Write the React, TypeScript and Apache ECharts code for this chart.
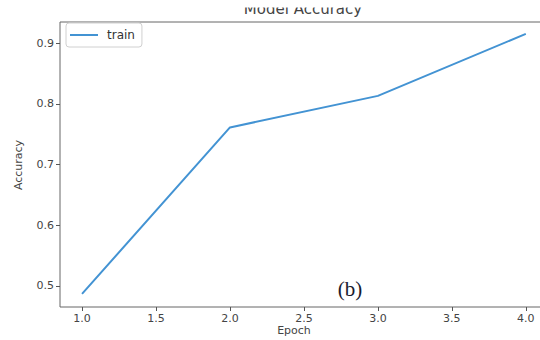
import React, { useEffect, useRef } from "react";
import * as echarts from "echarts";

const epochs = [1, 2, 3, 4];
const trainAcc = [0.487, 0.761, 0.813, 0.915];
const xTicks = [1.0, 1.5, 2.0, 2.5, 3.0, 3.5, 4.0];
const yTicks = [0.5, 0.6, 0.7, 0.8, 0.9];

export default function App() {
  const ref = useRef<HTMLDivElement>(null);
  useEffect(() => {
    if (!ref.current) return;
    const chart = echarts.init(ref.current, undefined, { renderer: "svg" });
    const font = "DejaVu Sans";
    chart.setOption({
      animation: false,
      backgroundColor: "#ffffff",
      grid: {
        left: 60,
        right: 12,
        top: 22,
        bottom: 33,
        show: true,
        borderColor: "#666",
        borderWidth: 1,
        backgroundColor: "transparent",
      },
      legend: {
        left: 66,
        top: 23,
        orient: "horizontal",
        icon: "rect",
        itemWidth: 28,
        itemHeight: 2,
        padding: [6, 7, 6, 4],
        borderColor: "#d0d0d0",
        borderWidth: 1,
        borderRadius: 3,
        backgroundColor: "rgba(255,255,255,0.8)",
        textStyle: {
          fontFamily: font,
          fontSize: 12,
          color: "#333",
          padding: [0, 0, 0, 4],
        },
        data: ["train"],
      },
      xAxis: {
        type: "value",
        min: 0.851,
        max: 4.15,
        axisLine: { show: false },
        splitLine: { show: false },
        axisTick: {
          show: true,
          length: 4,
          customValues: xTicks,
          lineStyle: { color: "#555" },
        },
        axisLabel: {
          customValues: xTicks,
          formatter: (v: number) => v.toFixed(1),
          fontFamily: font,
          fontSize: 11,
          color: "#444",
          margin: 6,
        },
      },
      yAxis: {
        type: "value",
        min: 0.4654,
        max: 0.9346,
        axisLine: { show: false },
        splitLine: { show: false },
        axisTick: {
          show: true,
          length: 4,
          customValues: yTicks,
          lineStyle: { color: "#555" },
        },
        axisLabel: {
          customValues: yTicks,
          formatter: (v: number) => v.toFixed(1),
          fontFamily: font,
          fontSize: 11,
          color: "#444",
          margin: 6,
        },
      },
      graphic: [
        {
          type: "text",
          x: 303,
          y: 16,
          z: 10,
          style: {
            text: "Model Accuracy",
            fontFamily: font,
            fontSize: 15,
            fill: "#444",
            align: "center",
            verticalAlign: "bottom",
          },
        },
        {
          type: "rect",
          z: 11,
          shape: { x: 200, y: 0, width: 200, height: 7.5 },
          style: { fill: "#ffffff" },
        },
        {
          type: "text",
          x: 18,
          y: 165,
          rotation: Math.PI / 2,
          style: {
            text: "Accuracy",
            fontFamily: font,
            fontSize: 11,
            fill: "#444",
            align: "center",
            verticalAlign: "middle",
          },
        },
        {
          type: "text",
          x: 294,
          y: 330,
          style: {
            text: "Epoch",
            fontFamily: font,
            fontSize: 11,
            fill: "#444",
            align: "center",
            verticalAlign: "middle",
          },
        },
        {
          type: "text",
          x: 350,
          y: 289,
          style: {
            text: "(b)",
            fontFamily: "Liberation Serif",
            fontSize: 21,
            fill: "#1a1a2e",
            align: "center",
            verticalAlign: "middle",
          },
        },
      ],
      series: [
        {
          name: "train",
          type: "line",
          data: epochs.map((e, i) => [e, trainAcc[i]]),
          showSymbol: false,
          symbol: "none",
          lineStyle: { color: "#4393d3", width: 2 },
          itemStyle: { color: "#4393d3" },
        },
      ],
    });
    return () => chart.dispose();
  }, []);
  return (
    <div
      style={{
        position: "absolute",
        left: 0,
        top: 0,
        width: 540,
        height: 340,
        overflow: "hidden",
        background: "#ffffff",
      }}
    >
      <div ref={ref} style={{ width: 560, height: 340 }} />
    </div>
  );
}
